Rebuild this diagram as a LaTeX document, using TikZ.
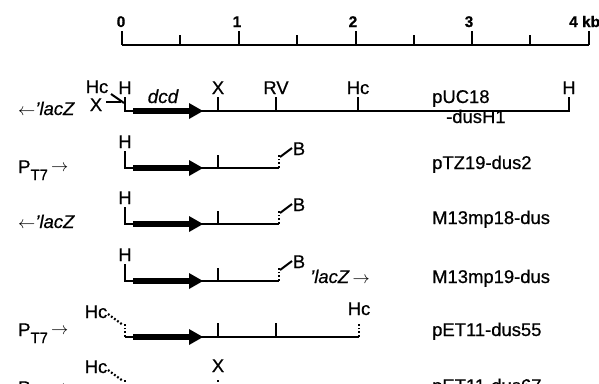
\documentclass[tikz,border=0pt]{standalone}
\usepackage{fontspec}
\setmainfont{Liberation Sans}[FakeBold=0.6]
\usetikzlibrary{calc}
% filled dcd gene arrow, drawn in row-local coordinates (backbone at y = 0)
\newcommand{\dcdarrow}{\fill (133,-2.8) -- (189,-2.8) -- (189,-8) -- (203,0) -- (189,8) -- (189,2.8) -- (133,2.8) -- cycle;}
\newcommand{\ptseven}{P\raisebox{-7bp}{\fontsize{15}{15}\selectfont T7}\,\raisebox{2bp}{$\rightarrow$}}
\begin{document}
\begin{tikzpicture}[x=1bp,y=-1bp,
  backbone/.style={line width=2bp, line cap=butt, line join=miter},
  cut/.style={line width=2bp},
  dotcut/.style={line width=2.2bp, dash pattern=on 1.8bp off 2bp},
  lab/.style={font=\fontsize{18.5}{20}\selectfont, inner sep=0pt, anchor=base},
  labw/.style={lab, anchor=base west},
  scalelab/.style={font=\fontsize{15.5}{17}\selectfont\bfseries, inner sep=0pt, anchor=base},
  genelab/.style={font=\fontsize{19}{20}\selectfont\itshape, inner sep=0pt, anchor=base}]
\useasboundingbox (0,0) rectangle (599,383);

% ---- kilobase scale ----
\foreach \i in {0,...,4} \coordinate (k\i) at ({122+116.75*\i},45);
\draw[line width=2.4bp] (k0) -- (k4);
\foreach \i in {0,...,4} \draw[cut] (k\i) -- ++(0,-14);
\foreach \x in {180,297,414,530} \draw[cut] (\x,45) -- (\x,35);
\node[scalelab] (s0) at (121,27) {0};
\node[scalelab] (s1) at (237,27) {1};
\node[scalelab] (s2) at (353,27) {2};
\node[scalelab] (s3) at (469,27) {3};
\node[scalelab, anchor=base west] (s4) at (569,27) {4 kb};

% ---- pUC18-dusH1 ----
\begin{scope}[shift={(0,111)}]
  \coordinate (H1) at (125,0);
  \coordinate (X1) at (218,0);
  \coordinate (RV1) at (276,0);
  \coordinate (Hc1) at (358,0);
  \coordinate (H1r) at (569,0);
  \draw[backbone] (125,-14) -- (H1) -- (H1r) -- (569,-14);
  \foreach \c in {X1,RV1,Hc1} \draw[cut] (\c) -- ++(0,-14);
  \dcdarrow
  \draw[cut] (111,-17) -- (124,-8);
  \draw[cut] (106,-9) -- (121,-9);
  \node[lab] (lHc1) at (97,-18) {Hc};
  \node[lab] (lH1) at (125,-17) {H};
  \node[lab] (lXl1) at (96,0) {X};
  \node[genelab] (ldcd) at (163,-8) {dcd};
  \node[lab] (lX1) at (218,-17) {X};
  \node[lab] (lRV1) at (276,-17) {RV};
  \node[lab] (lHcr1) at (358,-17) {Hc};
  \node[lab] (lHr1) at (569,-17) {H};
  \node[labw] (lz1) at (18,4) {$\leftarrow$\textit{'lacZ}};
  \node[labw] (pUC) at (432,-8) {pUC18};
  \node[labw] (dusH1) at (446,12) {-dusH1};
\end{scope}

% ---- pTZ19-dus2 ----
\begin{scope}[shift={(0,168)}]
  \coordinate (H2) at (125,0);
  \coordinate (X2) at (218,0);
  \coordinate (B2) at (279,0);
  \draw[backbone] (125,-17) -- (H2) -- (B2);
  \draw[cut] (X2) -- ++(0,-13);
  \draw[dotcut] (B2) -- ++(0,-13);
  \draw[cut] (280,-11) -- (292,-20);
  \dcdarrow
  \node[lab] (lH2) at (125,-20) {H};
  \node[lab] (lB2) at (299,-13) {B};
  \node[labw] (pt2) at (18,5) {\ptseven};
  \node[labw] (pTZ) at (432,1) {pTZ19-dus2};
\end{scope}

% ---- M13mp18-dus ----
\begin{scope}[shift={(0,224)}]
  \coordinate (H3) at (125,0);
  \coordinate (X3) at (218,0);
  \coordinate (B3) at (279,0);
  \draw[backbone] (125,-17) -- (H3) -- (B3);
  \draw[cut] (X3) -- ++(0,-13);
  \draw[dotcut] (B3) -- ++(0,-13);
  \draw[cut] (280,-11) -- (292,-20);
  \dcdarrow
  \node[lab] (lH3) at (125,-20) {H};
  \node[lab] (lB3) at (299,-13) {B};
  \node[labw] (lz3) at (18,4) {$\leftarrow$\textit{'lacZ}};
  \node[labw] (m18) at (432,0) {M13mp18-dus};
\end{scope}

% ---- M13mp19-dus ----
\begin{scope}[shift={(0,281)}]
  \coordinate (H4) at (125,0);
  \coordinate (X4) at (218,0);
  \coordinate (B4) at (279,0);
  \draw[backbone] (125,-17) -- (H4) -- (B4);
  \draw[cut] (X4) -- ++(0,-13);
  \draw[dotcut] (B4) -- ++(0,-13);
  \draw[cut] (280,-11) -- (292,-20);
  \dcdarrow
  \node[lab] (lH4) at (125,-20) {H};
  \node[lab] (lB4) at (299,-13) {B};
  \node[labw] (lz4) at (310,2) {\textit{'lacZ}\,$\rightarrow$};
  \node[labw] (m19) at (432,2) {M13mp19-dus};
\end{scope}

% ---- pET11-dus55 ----
\begin{scope}[shift={(0,337)}]
  \coordinate (Hc5) at (125,0);
  \coordinate (X5) at (218,0);
  \coordinate (RV5) at (276,0);
  \coordinate (Hc5r) at (359,0);
  \draw[backbone] (Hc5) -- (Hc5r);
  \draw[dotcut] (Hc5) -- ++(0,-15);
  \draw[dotcut] (Hc5r) -- ++(0,-15);
  \foreach \c in {X5,RV5} \draw[cut] (\c) -- ++(0,-14);
  \draw[dotcut] (108,-23) -- (123,-12);
  \dcdarrow
  \node[lab] (lHc5) at (96,-19) {Hc};
  \node[lab] (lHcr5) at (359,-22) {Hc};
  \node[labw] (pt5) at (18,-1) {\ptseven};
  \node[labw] (pET55) at (432,-1) {pET11-dus55};
\end{scope}

% ---- pET11-dus67 ----
\begin{scope}[shift={(0,393)}]
  \coordinate (Hc6) at (125,0);
  \coordinate (X6) at (218,0);
  \draw[dotcut] (Hc6) -- ++(0,-15);
  \draw[dotcut] (X6) -- ++(0,-15);
  \draw[dotcut] (108,-23) -- (123,-12);
  \node[lab] (lHc6) at (96,-20) {Hc};
  \node[lab] (lX6) at (218,-21) {X};
  \node[labw] (pt6) at (18,1) {\ptseven};
  \node[labw] (pET67) at (432,-1) {pET11-dus67};
\end{scope}
\end{tikzpicture}
\end{document}
